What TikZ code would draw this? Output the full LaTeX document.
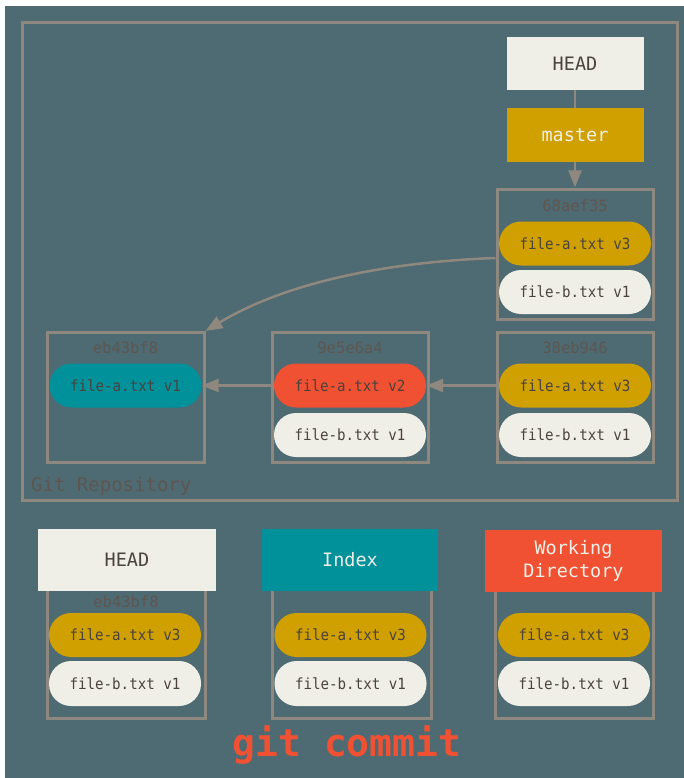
\documentclass[tikz,border=0pt]{standalone}
\usepackage{fontspec}
\setmonofont{DejaVu Sans Mono}
\newfontfamily\pillfont[FakeStretch=0.92]{DejaVu Sans Mono}
\usetikzlibrary{arrows.meta}
\definecolor{bgslate}{HTML}{4E6A72}
\definecolor{framegray}{HTML}{8F887F}
\definecolor{cream}{HTML}{F0EFE7}
\definecolor{gold}{HTML}{CFA000}
\definecolor{tealc}{HTML}{00919B}
\definecolor{redc}{HTML}{F05133}
\definecolor{darktext}{HTML}{4A423D}
\definecolor{labeltext}{HTML}{5E5650}
\tikzset{
  pill/.style={rectangle, rounded corners=22pt, minimum width=152pt, minimum height=44pt, inner sep=0pt,
    text=darktext, font=\pillfont\fontsize{15.4}{17}\selectfont},
  commitbox/.style={rectangle, draw=framegray, line width=3pt, minimum width=156pt, minimum height=130pt, inner sep=0pt},
  framebox/.style={rectangle, draw=framegray, line width=3pt, minimum width=158pt, minimum height=133pt, inner sep=0pt},
  refbox/.style={rectangle, minimum width=137pt, minimum height=53pt, inner sep=0pt, font=\ttfamily\fontsize{18.5}{20}\selectfont},
  areabox/.style={rectangle, minimum width=177pt, minimum height=62pt, inner sep=0pt, font=\ttfamily\fontsize{18.5}{23}\selectfont, align=center},
  hashlabel/.style={text=labeltext, font=\ttfamily\fontsize{15.5}{17}\selectfont, inner sep=0pt},
  conn/.style={draw=framegray, line width=2.5pt},
  arr/.style={conn, -{Triangle[length=17pt, width=13pt]}},
}
\begin{document}
\begin{tikzpicture}[x=1pt, y=-1pt]
\useasboundingbox (0,0) rectangle (684,778);
\fill[bgslate] (5,6) rectangle (684,778);
% outer repository frame
\draw[framegray, line width=3pt] (22.5,22.5) rectangle (677,500);
\node[anchor=west, text=labeltext, font=\ttfamily\fontsize{19}{21}\selectfont, inner sep=0pt] (repolabel) at (31,486) {Git Repository};

% refs
\node[refbox, fill=cream, text=darktext] (headT) at (575,63.5) {HEAD};
\node[refbox, fill=gold, text=cream, minimum height=54pt] (masterT) at (575,135) {master};

% commit 68aef35
\node[commitbox] (c68) at (575,254) {};
\node[hashlabel] (c68l) at (575,206) {68aef35};
\node[pill, fill=gold] (c68a) at (575,243.5) {file-a.txt v3};
\node[pill, fill=cream] (c68b) at (575,292) {file-b.txt v1};

% commit 38eb946
\node[commitbox] (c38) at (575,397.5) {};
\node[hashlabel] (c38l) at (575,348) {38eb946};
\node[pill, fill=gold] (c38a) at (575,385.5) {file-a.txt v3};
\node[pill, fill=cream] (c38b) at (575,435) {file-b.txt v1};

% commit 9e5e6a4
\node[commitbox] (c9) at (350,397.5) {};
\node[hashlabel] (c9l) at (350,348) {9e5e6a4};
\node[pill, fill=redc] (c9a) at (350,385.5) {file-a.txt v2};
\node[pill, fill=cream] (c9b) at (350,435) {file-b.txt v1};

% commit eb43bf8
\node[commitbox, minimum width=157pt] (ceb) at (125.5,397.5) {};
\node[hashlabel] (cebl) at (125.5,348) {eb43bf8};
\node[pill, fill=tealc] (ceba) at (125.5,385.5) {file-a.txt v1};

% connectors
\draw[conn] (headT) -- (masterT);
\draw[arr] (masterT) -- (c68);
\draw[arr] (c38a.west) -- (c9a.east);
\draw[arr] (c9a.west) -- (ceba.east);
\draw[arr] ([yshift=-4pt]c68.west) .. controls (385,262) and (285,283) .. (ceb.north east);

% bottom: HEAD
\node[framebox] (fhead) at (126,651.5) {};
\node[areabox, fill=cream, text=darktext, minimum width=178pt] (bhead) at (127,560) {HEAD};
\node[hashlabel] (bheadl) at (126,602) {eb43bf8};
\node[pill, fill=gold] (bheada) at (125,635) {file-a.txt v3};
\node[pill, fill=cream, minimum height=45pt] (bheadb) at (125,683.5) {file-b.txt v1};

% bottom: Index
\node[framebox, minimum width=159pt] (findex) at (351.5,651.5) {};
\node[areabox, fill=tealc, text=cream, minimum width=176pt] (bindex) at (350,560) {Index};
\node[pill, fill=gold] (bindexa) at (350.5,635) {file-a.txt v3};
\node[pill, fill=cream, minimum height=45pt] (bindexb) at (350.5,683.5) {file-b.txt v1};

% bottom: Working Directory
\node[framebox] (fwd) at (574,651.5) {};
\node[areabox, fill=redc, text=cream] (bwd) at (573.5,560.5) {Working\\Directory};
\node[pill, fill=gold] (bwda) at (574,635) {file-a.txt v3};
\node[pill, fill=cream, minimum height=45pt] (bwdb) at (574,683.5) {file-b.txt v1};

% command
\node[text=redc, font=\ttfamily\bfseries\fontsize{38}{40}\selectfont, inner sep=0pt] (cmd) at (347,745) {git commit};
\end{tikzpicture}
\end{document}
